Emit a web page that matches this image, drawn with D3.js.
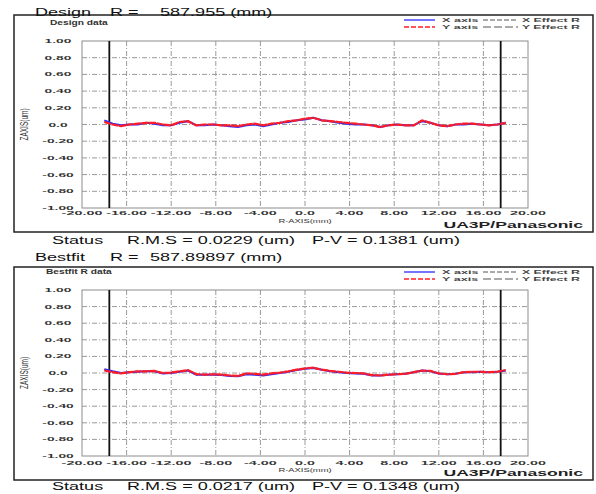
<!DOCTYPE html>
<html lang="en">
<head>
<meta charset="utf-8">
<script src="https://d3js.org/d3.v7.min.js"></script>
<style>
  body { margin: 0; background: #fff; }
  svg text { font-family: "Liberation Sans", Arial, sans-serif; fill: #111; }
</style>
</head>
<body>
<script>
// R positions (mm) of the measured profile
var rPos = [-18, -17.25, -16.5, -15.75, -15, -14.25, -13.5, -12.75, -12, -11.25, -10.5, -9.75, -9, -8.25, -7.5, -6.75, -6, -5.25, -4.5, -3.75, -3, -2.25, -1.5, -0.75,
            0, 0.75, 1.5, 2.25, 3, 3.75, 4.5, 5.25, 6, 6.75, 7.5, 8.25, 9, 9.75, 10.5, 11.25, 12, 12.75, 13.5, 14.25, 15, 15.75, 16.5, 17.25, 18];

// Design data (um)
var designX = [0.05, 0.01, -0.01, 0.0, 0.0, 0.02, 0.01, -0.01, -0.01, 0.02, 0.04, -0.01, -0.01, 0.0, -0.01, -0.02, -0.03, -0.01, 0.0, -0.02, 0.0, 0.02, 0.03, 0.05,
               0.06, 0.08, 0.05, 0.04, 0.02, 0.01, 0.0, 0.0, -0.01, -0.03, -0.01, 0.0, -0.01, -0.01, 0.04, 0.02, -0.01, -0.02, 0.0, 0.0, 0.01, 0.0, -0.01, 0.0, 0.02];
var designY = [0.03, 0.0, -0.02, 0.0, 0.01, 0.02, 0.02, 0.0, -0.01, 0.03, 0.04, -0.01, 0.0, 0.0, -0.01, -0.01, -0.02, 0.0, 0.01, -0.01, 0.01, 0.02, 0.04, 0.05,
               0.07, 0.08, 0.05, 0.04, 0.03, 0.02, 0.01, 0.0, -0.01, -0.03, -0.01, 0.0, -0.01, -0.01, 0.05, 0.02, -0.01, -0.02, 0.0, 0.01, 0.01, 0.0, -0.01, 0.0, 0.02];

// Bestfit R data (um)
var bestX = [0.045, 0.02, 0.0, 0.01, 0.015, 0.02, 0.02, -0.005, 0.0, 0.015, 0.03, -0.02, -0.02, -0.02, -0.025, -0.035, -0.04, -0.015, -0.02, -0.03, -0.015, 0.0, 0.015, 0.035,
             0.05, 0.06, 0.04, 0.02, 0.01, 0.0, -0.005, -0.01, -0.03, -0.03, -0.02, -0.015, -0.01, 0.01, 0.03, 0.02, -0.005, -0.015, -0.01, 0.01, 0.01, 0.015, 0.01, 0.015, 0.03];
var bestY = [0.03, 0.01, -0.005, 0.01, 0.02, 0.02, 0.025, 0.0, 0.005, 0.02, 0.035, -0.015, -0.02, -0.015, -0.02, -0.03, -0.035, -0.005, -0.01, -0.02, -0.005, 0.005, 0.02, 0.04,
             0.055, 0.065, 0.04, 0.025, 0.015, 0.005, 0.0, -0.005, -0.025, -0.03, -0.02, -0.015, -0.01, 0.01, 0.03, 0.025, -0.005, -0.015, -0.01, 0.01, 0.015, 0.015, 0.01, 0.015, 0.035];

var effectR = [-17.55, 17.55];

var xTicks = [-20, -16, -12, -8, -4, 0, 4, 8, 12, 16, 20];
var xTickLabels = ["-20.00", "-16.00", "-12.00", "-8.00", "-4.00", "0.0", "4.00", "8.00", "12.00", "16.00", "20.00"];
var yTicks = [1, 0.8, 0.6, 0.4, 0.2, 0, -0.2, -0.4, -0.6, -0.8, -1];
var yTickLabels = ["1.00", "0.80", "0.60", "0.40", "0.20", "0.0", "-0.20", "-0.40", "-0.60", "-0.80", "-1.00"];

var charts = [
  { frameTop: 15, frameBottom: 232, plotTop: 41, plotBottom: 208,
    head: ["Design", "R =", "587.955 (mm)"], headX: [35, 110, 160], headY: 16,
    dataLabel: "Design data", dataLabelX: 50, dataLabelY: 25,
    xs: designX, ys: designY, xLabY: 215, axisTitleY: 223,
    status: ["Status", "R.M.S = 0.0229 (um)", "P-V = 0.1381 (um)"], statusY: 244 },
  { frameTop: 267, frameBottom: 480, plotTop: 290, plotBottom: 456,
    head: ["Bestfit", "R =", "587.89897 (mm)"], headX: [35, 110, 150], headY: 261,
    dataLabel: "Bestfit R data", dataLabelX: 46, dataLabelY: 274,
    xs: bestX, ys: bestY, xLabY: 465, axisTitleY: 472,
    status: ["Status", "R.M.S = 0.0217 (um)", "P-V = 0.1348 (um)"], statusY: 490 }
];

var width = 596, height = 494;
var svg = d3.select("body").append("svg").attr("width", width).attr("height", height);

// stretched text, the scan is wider than tall
function label(g, str, x, y, size, sx, weight, anchor) {
  return g.append("text")
    .attr("transform", "translate(" + x + "," + y + ") scale(" + sx + ",1)")
    .attr("font-size", size)
    .attr("font-weight", weight || "normal")
    .attr("text-anchor", anchor || "start")
    .text(str);
}

function drawChart(c) {
  var g = svg.append("g");
  var x = d3.scaleLinear().domain([-20, 20]).range([82, 528]);
  var y = d3.scaleLinear().domain([-1, 1]).range([c.plotBottom, c.plotTop]);

  // outer frame
  g.append("rect")
    .attr("x", 14).attr("y", c.frameTop)
    .attr("width", 579).attr("height", c.frameBottom - c.frameTop)
    .attr("fill", "none").attr("stroke", "#222").attr("stroke-width", 1.5);

  // grid
  g.selectAll(".vgrid").data(xTicks.slice(1, -1)).enter().append("line")
    .attr("x1", function(d) { return x(d); }).attr("x2", function(d) { return x(d); })
    .attr("y1", c.plotTop).attr("y2", c.plotBottom)
    .attr("stroke", "#9a9a9a").attr("stroke-width", 1).attr("stroke-dasharray", "5,2,1,2");
  g.selectAll(".hgrid").data(yTicks.slice(1, -1)).enter().append("line")
    .attr("x1", x(-20)).attr("x2", x(20))
    .attr("y1", function(d) { return y(d); }).attr("y2", function(d) { return y(d); })
    .attr("stroke", "#9a9a9a").attr("stroke-width", 1).attr("stroke-dasharray", "5,2,1,2");

  g.append("rect")
    .attr("x", x(-20)).attr("y", c.plotTop)
    .attr("width", x(20) - x(-20)).attr("height", c.plotBottom - c.plotTop)
    .attr("fill", "none").attr("stroke", "#8c8c8c").attr("stroke-width", 1);

  // effect R limits
  g.selectAll(".eff").data(effectR).enter().append("line")
    .attr("x1", function(d) { return x(d); }).attr("x2", function(d) { return x(d); })
    .attr("y1", c.plotTop).attr("y2", c.plotBottom)
    .attr("stroke", "#111").attr("stroke-width", 1.8);

  var lineX = d3.line().x(function(d, i) { return x(rPos[i]); }).y(function(d) { return y(d); });
  g.append("path").attr("d", lineX(c.xs))
    .attr("fill", "none").attr("stroke", "#2b2bff").attr("stroke-width", 2);
  g.append("path").attr("d", lineX(c.ys))
    .attr("fill", "none").attr("stroke", "#ff1c24").attr("stroke-width", 2.2)
    .attr("stroke-dasharray", "7,0.6");

  // tick labels
  yTicks.forEach(function(d, i) {
    label(g, yTickLabels[i], 58, y(d) + 2, 6, 2.3, "bold", "middle").style("fill", "#333");
  });
  xTicks.forEach(function(d, i) {
    label(g, xTickLabels[i], x(d), c.xLabY, 6, 2.4, "bold", "middle").style("fill", "#333");
  });

  label(g, "R-AXIS(mm)", x(0), c.axisTitleY, 6, 1.57, "normal", "middle").style("fill", "#333");
  g.append("text")
    .attr("transform", "translate(28," + y(0) + ") scale(1.57,1) rotate(-90)")
    .attr("font-size", 6.5).attr("text-anchor", "middle").style("fill", "#333")
    .text("ZAXIS(um)");

  label(g, c.dataLabel, c.dataLabelX, c.dataLabelY, 6.5, 1.57, "bold").style("fill", "#333");
  label(g, "UA3P/Panasonic", 583, c.frameBottom - 4, 9.5, 1.85, "bold", "end").style("fill", "#222");

  // legend
  var l1 = c.frameTop + 5, l2 = c.frameTop + 12;
  g.append("line").attr("x1", 404).attr("x2", 435).attr("y1", l1).attr("y2", l1)
    .attr("stroke", "#2b2bff").attr("stroke-width", 1.3);
  g.append("line").attr("x1", 404).attr("x2", 435).attr("y1", l2).attr("y2", l2)
    .attr("stroke", "#ff1c24").attr("stroke-width", 1.3).attr("stroke-dasharray", "5,2");
  g.append("line").attr("x1", 483).attr("x2", 518).attr("y1", l1).attr("y2", l1)
    .attr("stroke", "#555").attr("stroke-width", 1).attr("stroke-dasharray", "5,2");
  g.append("line").attr("x1", 483).attr("x2", 518).attr("y1", l2).attr("y2", l2)
    .attr("stroke", "#555").attr("stroke-width", 1).attr("stroke-dasharray", "8,3");
  label(g, "X axis", 442, l1 + 2, 6, 2.1, "bold").style("fill", "#444");
  label(g, "Y axis", 442, l2 + 2, 6, 2.1, "bold").style("fill", "#444");
  label(g, "X Effect R", 522, l1 + 2, 6, 2.05, "bold").style("fill", "#444");
  label(g, "Y Effect R", 522, l2 + 2, 6, 2.05, "bold").style("fill", "#444");

  // header and status
  c.head.forEach(function(t, i) {
    label(g, t, c.headX[i], c.headY, 11.5, 1.57, "normal");
  });
  var sx = [52, 127, 312];
  c.status.forEach(function(t, i) {
    label(g, t, sx[i], c.statusY, 11.5, 1.57, "normal");
  });
}

charts.forEach(drawChart);
</script>
</body>
</html>
